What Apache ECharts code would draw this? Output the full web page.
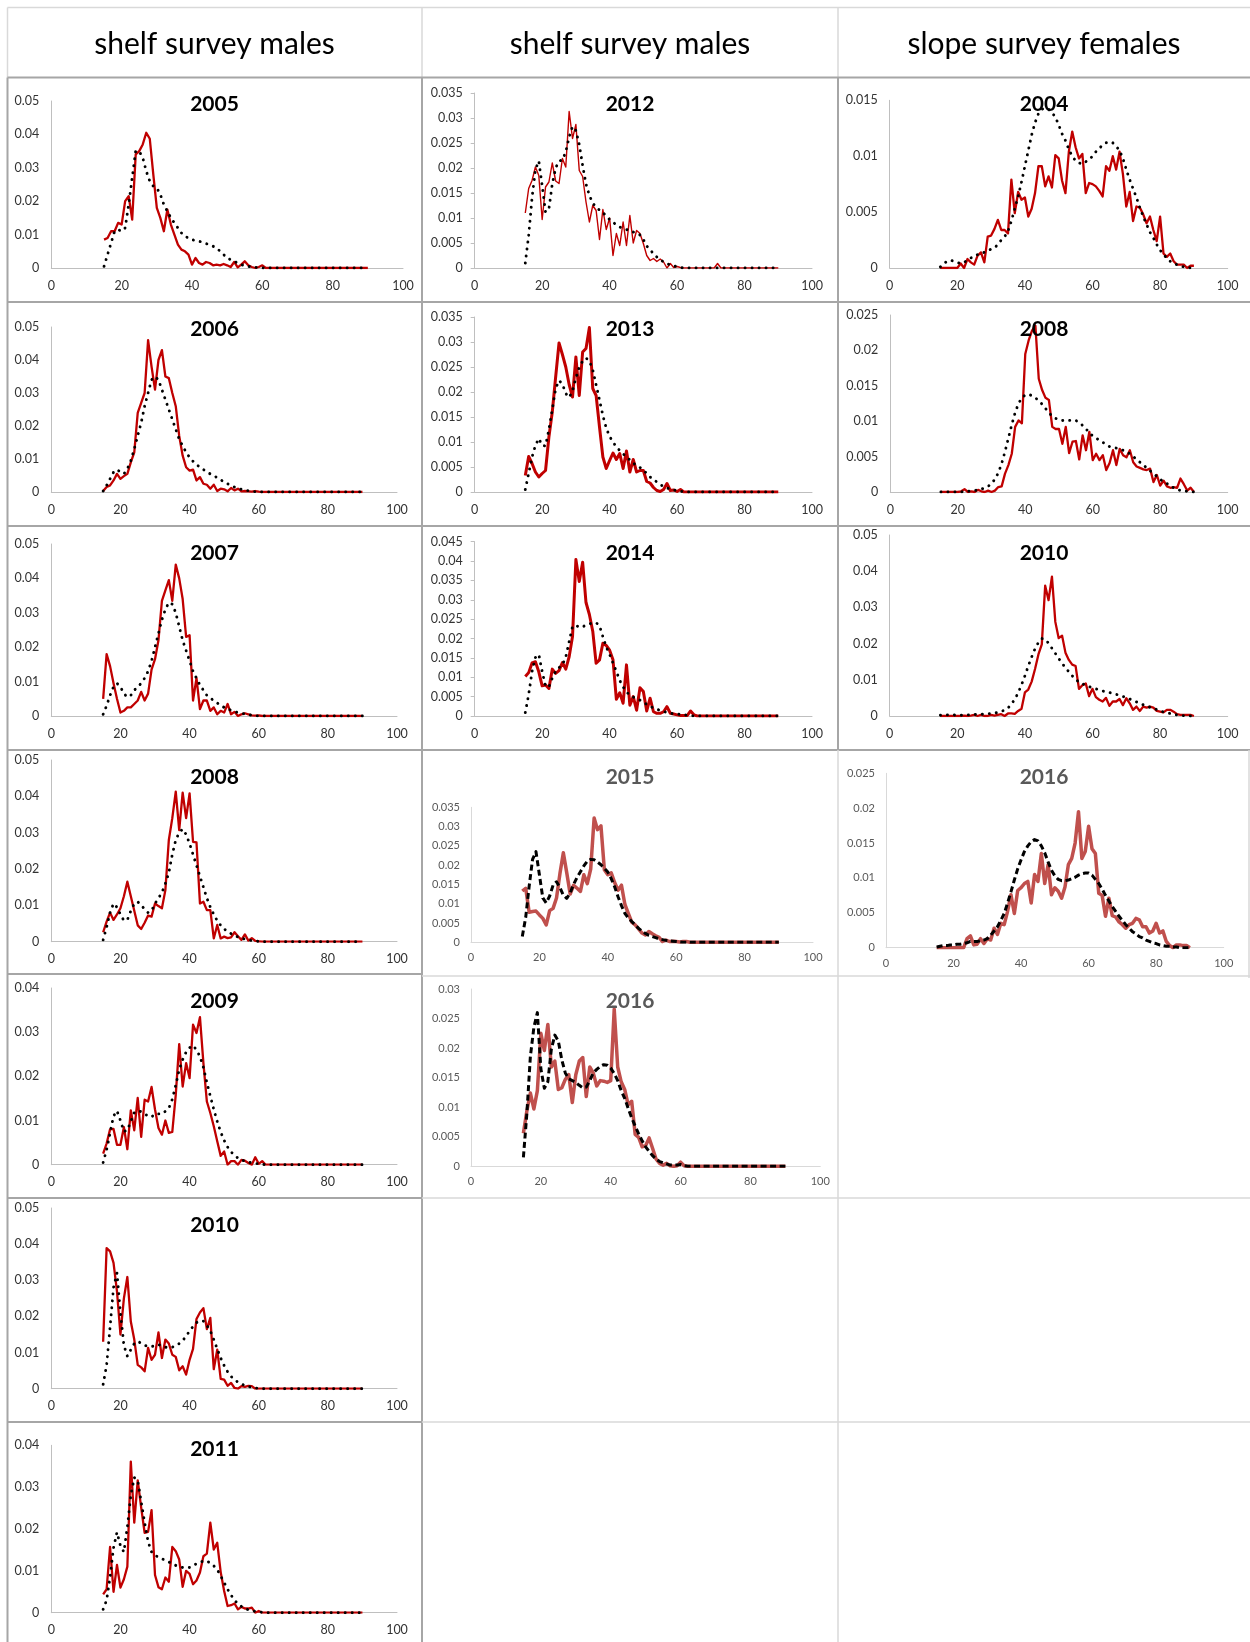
<!DOCTYPE html>
<html><head><meta charset="utf-8">
<script src="https://cdn.jsdelivr.net/npm/echarts/dist/echarts.min.js"></script>
<style>html,body{margin:0;padding:0;background:#fff}#c{width:1250px;height:1642px}</style>
</head><body><div id="c"></div><script>
// ---------- DATA ----------
const headers = ['shelf survey males', 'shelf survey males', 'slope survey females'];
const lengths = [15,16,17,18,19,20,21,22,23,24,25,26,27,28,29,30,31,32,33,34,35,36,37,38,39,40,41,42,43,44,45,46,47,48,49,50,51,52,53,54,55,56,57,58,59,60,61,62,63,64,65,66,67,68,69,70,71,72,73,74,75,76,77,78,79,80,81,82,83,84,85,86,87,88,89,90];

// shelf survey males (column 1)
const obs_m2005 = [0.0085,0.009,0.011,0.011,0.0135,0.013,0.020,0.0215,0.0145,0.034, 0.035,0.037,0.0405,0.0387,0.028,0.018,0.015,0.011,0.0175,0.013, 0.010,0.007,0.0055,0.005,0.004,0.001,0.003,0.0015,0.001,0.0018, 0.0015,0.0008,0.001,0.0008,0.0012,0.0008,0.0003,0.0018,0.0002,0.001, 0.002,0.0008,0.0003,0,0.0003,0.0008,0,0,0,0, 0,0,0,0,0,0,0,0,0,0, 0,0,0,0,0,0,0,0,0,0, 0,0,0,0,0,0];
const fit_m2005 = [0.0005,0.004,0.0075,0.011,0.0115,0.011,0.012,0.019,0.027,0.035, 0.035,0.033,0.029,0.026,0.0245,0.024,0.022,0.019,0.017,0.015, 0.0135,0.012,0.0105,0.0095,0.009,0.0085,0.0082,0.008,0.0077,0.0073, 0.007,0.0065,0.006,0.005,0.004,0.003,0.0025,0.002,0.0015,0.001, 0.0007,0.0005,0.0003,0.0002,0.0001,0,0,0,0,0, 0,0,0,0,0,0,0,0,0,0, 0,0,0,0,0,0,0,0,0,0, 0,0,0,0,0,0];
const obs_m2006 = [0.0003,0.0015,0.002,0.0035,0.0055,0.004,0.0048,0.0055,0.009,0.012, 0.024,0.027,0.03,0.046,0.038,0.031,0.040,0.043,0.035,0.0345, 0.030,0.026,0.017,0.011,0.0075,0.0065,0.0068,0.0035,0.0045,0.0025, 0.0022,0.001,0.0022,0.0003,0.001,0.0008,0.0002,0.0012,0.0005,0.001, 0.0002,0.0003,0.0002,0.0001,0.0003,0.0001,0,0,0,0, 0,0,0,0,0,0,0,0,0,0, 0,0,0,0,0,0,0,0,0,0, 0,0,0,0,0,0];
const fit_m2006 = [0.0003,0.002,0.004,0.006,0.0068,0.006,0.0055,0.007,0.0095,0.013, 0.017,0.021,0.026,0.030,0.034,0.035,0.034,0.031,0.028,0.025, 0.022,0.019,0.016,0.014,0.012,0.0105,0.0093,0.0083,0.0075,0.0068, 0.006,0.0055,0.005,0.0043,0.0037,0.003,0.0025,0.002,0.0015,0.0011, 0.0008,0.0005,0.0004,0.0002,0.0001,0,0,0,0,0, 0,0,0,0,0,0,0,0,0,0, 0,0,0,0,0,0,0,0,0,0, 0,0,0,0,0,0];
const obs_m2007 = [0.005,0.018,0.0145,0.0095,0.005,0.001,0.0015,0.0025,0.0025,0.0035, 0.0045,0.007,0.0045,0.0065,0.0135,0.0165,0.022,0.0335,0.0365,0.0395, 0.0335,0.044,0.040,0.034,0.023,0.0235,0.0045,0.011,0.002,0.0045, 0.0045,0.0015,0.0025,0.0005,0.0015,0.001,0.0035,0.0005,0.0012,0, 0.0005,0.0008,0.0005,0.0002,0.0001,0.0002,0,0,0,0, 0,0,0,0,0,0,0,0,0,0, 0,0,0,0,0,0,0,0,0,0, 0,0,0,0,0,0];
const fit_m2007 = [0.0005,0.003,0.006,0.0085,0.0095,0.0085,0.0065,0.0055,0.006,0.0075, 0.0085,0.0095,0.011,0.013,0.016,0.020,0.024,0.028,0.031,0.033, 0.0325,0.030,0.026,0.022,0.019,0.016,0.013,0.011,0.009,0.0075, 0.006,0.0052,0.0045,0.0038,0.003,0.0025,0.002,0.0017,0.0013,0.001, 0.0008,0.0006,0.0004,0.0002,0.0001,0,0,0,0,0, 0,0,0,0,0,0,0,0,0,0, 0,0,0,0,0,0,0,0,0,0, 0,0,0,0,0,0];
const obs_m2008 = [0.0026,0.0055,0.008,0.006,0.0075,0.0092,0.0125,0.0165,0.0125,0.0085, 0.0045,0.0035,0.0052,0.0072,0.0069,0.0105,0.0098,0.0092,0.0142,0.028, 0.034,0.0413,0.0307,0.041,0.034,0.0408,0.0275,0.0273,0.0105,0.011, 0.0087,0.0087,0.0009,0.0046,0.0009,0.0014,0.001,0.0012,0.0026,0.0015, 0.0005,0.002,0.0003,0.001,0.0002,0.0001,0,0,0,0, 0,0,0,0,0,0,0,0,0,0, 0,0,0,0,0,0,0,0,0,0, 0,0,0,0,0,0];
const fit_m2008 = [0.0005,0.004,0.008,0.0105,0.0095,0.0075,0.0058,0.006,0.0085,0.0105, 0.011,0.010,0.009,0.008,0.0085,0.0105,0.012,0.0135,0.016,0.019, 0.024,0.028,0.030,0.031,0.0295,0.027,0.024,0.021,0.018,0.015, 0.012,0.0095,0.0075,0.0058,0.0045,0.0035,0.0028,0.0022,0.0017,0.0013, 0.001,0.0007,0.0005,0.0003,0.0002,0.0001,0,0,0,0, 0,0,0,0,0,0,0,0,0,0, 0,0,0,0,0,0,0,0,0,0, 0,0,0,0,0,0];
const obs_m2009 = [0.0025,0.0048,0.008,0.0081,0.0045,0.0045,0.0085,0.0035,0.0123,0.0078, 0.0151,0.0063,0.0147,0.0143,0.0176,0.0125,0.0083,0.0068,0.010,0.0072, 0.0074,0.0158,0.0273,0.0177,0.023,0.0196,0.0317,0.0298,0.0334,0.023, 0.0143,0.0117,0.0087,0.0053,0.002,0.003,0,0.0008,0.0008,0, 0.0011,0.0009,0.0004,0,0.0017,0.0002,0.0008,0,0,0, 0,0,0,0,0,0,0,0,0,0, 0,0,0,0,0,0,0,0,0,0, 0,0,0,0,0,0];
const fit_m2009 = [0.0005,0.0034,0.0072,0.011,0.0122,0.010,0.0075,0.0078,0.0098,0.0118, 0.0122,0.012,0.0115,0.011,0.0108,0.0115,0.0115,0.0115,0.0121,0.0128, 0.0148,0.018,0.0215,0.0238,0.0255,0.0265,0.027,0.026,0.0245,0.022, 0.0186,0.0155,0.0125,0.0098,0.0074,0.0055,0.004,0.0029,0.0021,0.0015, 0.0011,0.0008,0.0006,0.0004,0.0003,0.0002,0.0001,0,0,0, 0,0,0,0,0,0,0,0,0,0, 0,0,0,0,0,0,0,0,0,0, 0,0,0,0,0,0];
const obs_m2010 = [0.013,0.0389,0.038,0.0348,0.0269,0.015,0.025,0.0309,0.0186,0.0136, 0.0066,0.0059,0.0048,0.0113,0.008,0.0094,0.0156,0.0085,0.0136,0.0125, 0.0094,0.0088,0.0051,0.0062,0.0039,0.008,0.011,0.0193,0.0211,0.0223, 0.0165,0.0196,0.0054,0.0108,0.0027,0.0025,0.0008,0.0016,0.0002,0, 0.0007,0.0005,0.0008,0.0007,0,0,0,0,0,0, 0,0,0,0,0,0,0,0,0,0, 0,0,0,0,0,0,0,0,0,0, 0,0,0,0,0,0];
const fit_m2010 = [0.0012,0.0065,0.017,0.028,0.032,0.021,0.012,0.009,0.0108,0.0125, 0.0131,0.0126,0.012,0.0117,0.0117,0.0118,0.0122,0.0119,0.0115,0.0113, 0.0115,0.0119,0.0125,0.0133,0.0145,0.016,0.0172,0.0183,0.0188,0.0187, 0.0175,0.016,0.0136,0.011,0.0085,0.0064,0.0047,0.0034,0.0025,0.0018, 0.0013,0.0009,0.0006,0.0004,0.0002,0.0001,0,0,0,0, 0,0,0,0,0,0,0,0,0,0, 0,0,0,0,0,0,0,0,0,0, 0,0,0,0,0,0];
const obs_m2011 = [0.0044,0.0056,0.0157,0.005,0.0114,0.006,0.008,0.011,0.0361,0.0215, 0.0316,0.0251,0.0191,0.0193,0.0245,0.009,0.0061,0.0056,0.0084,0.0074, 0.0157,0.0147,0.0127,0.0062,0.01,0.0093,0.0068,0.0077,0.0096,0.0135, 0.0141,0.0215,0.0151,0.0167,0.0097,0.0052,0.0016,0.0018,0.0022,0.0008, 0.0014,0.001,0.001,0.0012,0,0.0004,0,0,0,0, 0,0,0,0,0,0,0,0,0,0, 0,0,0,0,0,0,0,0,0,0, 0,0,0,0,0,0];
const fit_m2011 = [0.0008,0.003,0.0085,0.0155,0.0192,0.016,0.0145,0.0205,0.028,0.0323, 0.0316,0.0265,0.0215,0.017,0.0145,0.0137,0.0133,0.0129,0.0125,0.0121, 0.0117,0.0113,0.011,0.0108,0.0108,0.0108,0.0112,0.0117,0.0121,0.0123, 0.0124,0.0118,0.0112,0.0103,0.0088,0.0072,0.0056,0.0042,0.003,0.0021, 0.0015,0.001,0.0007,0.0005,0.0003,0.0002,0.0001,0,0,0, 0,0,0,0,0,0,0,0,0,0, 0,0,0,0,0,0,0,0,0,0, 0,0,0,0,0,0];

// shelf survey males (column 2)
const obs_m2012 = [0.011,0.0159,0.0175,0.0202,0.0185,0.0097,0.0162,0.0172,0.021,0.0174, 0.0169,0.0219,0.0202,0.0313,0.0259,0.0287,0.0195,0.0183,0.0132,0.0092, 0.0125,0.0115,0.0057,0.0117,0.0077,0.01,0.0025,0.0069,0.0045,0.0092, 0.0045,0.0105,0.005,0.0075,0.0069,0.0049,0.0025,0.0015,0.0019,0.0013, 0.0018,0.0012,0,0.0009,0.0001,0.0003,0.0001,0,0,0, 0,0,0,0,0,0,0,0.0009,0,0, 0,0,0,0,0,0,0,0,0,0, 0,0,0,0,0,0];
const fit_m2012 = [0.001,0.0065,0.014,0.0197,0.0214,0.0165,0.0112,0.0118,0.0168,0.020, 0.0214,0.0216,0.0232,0.0262,0.0283,0.0275,0.0247,0.0205,0.0168,0.0145, 0.013,0.0121,0.0116,0.0111,0.0104,0.0097,0.0091,0.0087,0.0082,0.0079, 0.0077,0.0074,0.0072,0.007,0.0066,0.0057,0.0044,0.0036,0.0029,0.0022, 0.0017,0.0012,0.0009,0.0006,0.0004,0.0003,0.0001,0,0,0, 0,0,0,0,0,0,0,0,0,0, 0,0,0,0,0,0,0,0,0,0, 0,0,0,0,0,0];
const obs_m2013 = [0.0033,0.0071,0.0057,0.004,0.003,0.0037,0.0043,0.011,0.016,0.023, 0.0298,0.0275,0.025,0.0215,0.019,0.027,0.0193,0.028,0.0287,0.0329, 0.0207,0.0193,0.013,0.007,0.0047,0.0063,0.0078,0.0065,0.0077,0.0047, 0.0082,0.004,0.0065,0.004,0.0043,0.0043,0.0021,0.0018,0.0009,0.0003, 0.0001,0.0005,0.0017,0.0003,0.0004,0.0001,0.0005,0,0,0, 0,0,0,0,0,0,0,0,0,0, 0,0,0,0,0,0,0,0,0,0, 0,0,0,0,0,0];
const fit_m2013 = [0.0005,0.0037,0.007,0.0093,0.0107,0.0093,0.0092,0.0125,0.0165,0.0207, 0.0223,0.0216,0.0197,0.0189,0.0202,0.0228,0.0249,0.0262,0.0268,0.0262, 0.0244,0.0214,0.0184,0.0153,0.0128,0.0111,0.01,0.009,0.0083,0.0076, 0.0071,0.0064,0.0058,0.0053,0.0049,0.0044,0.0037,0.003,0.0025,0.002, 0.0015,0.0011,0.0008,0.0006,0.0004,0.0003,0.0002,0,0,0, 0,0,0,0,0,0,0,0,0,0, 0,0,0,0,0,0,0,0,0,0, 0,0,0,0,0,0];
const obs_m2014 = [0.0102,0.0112,0.0137,0.014,0.0114,0.0078,0.008,0.0071,0.0121,0.011, 0.0117,0.0138,0.0121,0.0153,0.0205,0.0404,0.0347,0.0397,0.0293,0.0262, 0.0219,0.0136,0.0145,0.0188,0.0182,0.017,0.0145,0.0043,0.006,0.0033, 0.0132,0.0028,0.005,0.0015,0.0073,0.0063,0.0013,0.0046,0.0011,0.0007, 0.0007,0.0011,0.0024,0.0007,0.0005,0.0003,0.0001,0.0001,0.0001,0.0013, 0.0003,0,0,0,0,0,0,0,0,0, 0,0,0,0,0,0,0,0,0,0, 0,0,0,0,0,0];
const fit_m2014 = [0.0009,0.0055,0.0115,0.0151,0.0159,0.0115,0.0077,0.0075,0.0098,0.0115, 0.0125,0.0132,0.0152,0.0192,0.0231,0.0234,0.0229,0.023,0.0235,0.0238, 0.024,0.0241,0.0233,0.0205,0.0178,0.0159,0.0137,0.0115,0.0092,0.0075, 0.0062,0.0054,0.0049,0.0045,0.0041,0.0036,0.003,0.0025,0.0021,0.0017, 0.0015,0.0012,0.0009,0.0007,0.0006,0.0005,0.0004,0.0003,0.0002,0.0001, 0,0,0,0,0,0,0,0,0,0, 0,0,0,0,0,0,0,0,0,0, 0,0,0,0,0,0];
const obs_m2015 = [0.0133,0.014,0.0078,0.008,0.0081,0.0071,0.0062,0.0045,0.0082,0.0088, 0.0115,0.0178,0.0232,0.018,0.0125,0.0148,0.014,0.0132,0.0175,0.0152, 0.019,0.0322,0.0292,0.0302,0.0188,0.0175,0.018,0.0155,0.0135,0.0148, 0.0098,0.0075,0.0052,0.0045,0.0035,0.0024,0.0019,0.0028,0.0022,0.0017, 0.0013,0.0002,0.0006,0.0002,0.0003,0.0002,0.0001,0.0002,0.0002,0, 0,0,0,0,0,0,0,0,0,0, 0,0,0,0,0,0,0,0,0,0, 0,0,0,0,0,0];
const fit_m2015 = [0.0015,0.0065,0.0145,0.0215,0.0235,0.0175,0.0115,0.0102,0.012,0.0148, 0.0157,0.0142,0.0122,0.0114,0.0128,0.015,0.0168,0.0183,0.0198,0.021, 0.0215,0.0214,0.0208,0.0201,0.0192,0.0182,0.0165,0.0144,0.0118,0.0095, 0.0075,0.0063,0.0054,0.0045,0.0036,0.0029,0.0023,0.0018,0.0015,0.0012, 0.0009,0.0007,0.0005,0.0004,0.0003,0.0002,0.0001,0,0,0, 0,0,0,0,0,0,0,0,0,0, 0,0,0,0,0,0,0,0,0,0, 0,0,0,0,0,0];
const obs_m2016 = [0.0056,0.0094,0.0124,0.0097,0.0128,0.0225,0.0196,0.024,0.0168,0.0178, 0.013,0.0133,0.0147,0.0155,0.0108,0.0155,0.0178,0.0184,0.0118,0.0168, 0.0158,0.0136,0.0145,0.0144,0.0142,0.0145,0.0266,0.0168,0.0143,0.013, 0.0104,0.011,0.0054,0.0049,0.0033,0.0035,0.0048,0.003,0.0012,0.0005, 0.0002,0.0005,0.0001,0,0.0001,0.0007,0.0001,0,0,0, 0,0,0,0,0,0,0,0,0,0, 0,0,0,0,0,0,0,0,0,0, 0,0,0,0,0,0];
const fit_m2016 = [0.0015,0.009,0.0186,0.0235,0.026,0.0165,0.0132,0.0143,0.0198,0.0222, 0.0212,0.018,0.0158,0.0148,0.0145,0.0142,0.0137,0.0133,0.0134,0.0145, 0.0158,0.0164,0.0169,0.0172,0.0171,0.0166,0.0157,0.0145,0.0128,0.0115, 0.0098,0.0082,0.0068,0.0055,0.0043,0.0033,0.0025,0.0018,0.0012,0.0008, 0.0006,0.0004,0.0002,0.0002,0.0002,0.0003,0.0001,0,0,0, 0,0,0,0,0,0,0,0,0,0, 0,0,0,0,0,0,0,0,0,0, 0,0,0,0,0,0];

// slope survey females (column 3)
const obs_f2004 = [0,0,0,0,0,0,0.0004,0,0.0008,0.0005, 0.0003,0.0011,0.0014,0.0005,0.0028,0.0029,0.0035,0.0043,0.0034,0.0034, 0.0031,0.0079,0.0049,0.0068,0.0061,0.0063,0.0046,0.0053,0.0067,0.0091, 0.0091,0.0073,0.0082,0.0072,0.0101,0.0098,0.0078,0.0067,0.0104,0.0122, 0.0108,0.0098,0.0102,0.0067,0.0076,0.0075,0.0073,0.0069,0.0064,0.0091, 0.0087,0.01,0.0088,0.0104,0.0084,0.0055,0.0068,0.0042,0.0055,0.0054, 0.0048,0.004,0.0046,0.0034,0.0024,0.0046,0.0013,0.001,0.0013,0.0006, 0.0003,0.0003,0.0003,0,0.0002,0.0002];
const fit_f2004 = [0.0001,0.0004,0.0006,0.0007,0.0006,0.0005,0.0004,0.0005,0.0007,0.0009, 0.001,0.0012,0.0013,0.0014,0.0015,0.0017,0.0018,0.0021,0.0025,0.0028, 0.0033,0.0042,0.0053,0.0064,0.0077,0.0091,0.0105,0.0119,0.013,0.0138, 0.0142,0.0143,0.0142,0.0139,0.0135,0.0128,0.012,0.0114,0.0106,0.01, 0.0096,0.0094,0.0093,0.0095,0.0097,0.01,0.0104,0.0107,0.011,0.0112, 0.0113,0.0112,0.0109,0.0105,0.0098,0.0088,0.0079,0.0071,0.0063,0.0054, 0.0046,0.0039,0.0032,0.0027,0.0021,0.0016,0.0012,0.0009,0.0006,0.0004, 0.0003,0.0002,0.0001,0.0001,0,0];
const obs_f2008 = [0,0,0,0,0,0,0.0001,0.0004,0,0.0001, 0,0.0003,0.0001,0,0.0002,0,0.0002,0.0007,0.0008,0.0026, 0.0038,0.0054,0.0092,0.0101,0.0097,0.0195,0.0214,0.0228,0.0235,0.016, 0.0144,0.0133,0.013,0.0092,0.0089,0.0089,0.0068,0.0092,0.0055,0.0071, 0.0072,0.0046,0.008,0.0059,0.0085,0.0045,0.0054,0.0045,0.0052,0.0031, 0.0041,0.0059,0.0038,0.0061,0.0052,0.0049,0.0059,0.0042,0.0036,0.0034, 0.0032,0.0031,0.0033,0.0014,0.0024,0.0009,0.0016,0.0008,0.0006,0.0007, 0.0006,0.0019,0.0011,0.0002,0.0006,0];
const fit_f2008 = [0,0,0,0,0,0,0,0.0001,0.0001,0.0001, 0.0002,0.0003,0.0004,0.0006,0.0008,0.0012,0.0018,0.0027,0.004,0.0057, 0.0076,0.0095,0.0112,0.0125,0.0133,0.0137,0.0138,0.0136,0.0133,0.0129, 0.0124,0.0118,0.0112,0.0107,0.0104,0.0102,0.0101,0.0101,0.0101,0.0102, 0.0101,0.0098,0.0094,0.0089,0.0084,0.0079,0.0076,0.0073,0.007,0.0067, 0.0064,0.0063,0.0062,0.006,0.0059,0.0057,0.0054,0.005,0.0046,0.0042, 0.0038,0.0034,0.003,0.0026,0.0022,0.0018,0.0014,0.0012,0.0008,0.0006, 0.0004,0.0002,0.0001,0.0001,0,0];
const obs_f2010 = [0,0,0,0,0,0,0,0.0001,0,0.0001, 0.0003,0,0.0003,0,0,0.0003,0.0001,0.0003,0.0005,0, 0.0007,0.0007,0.0006,0.0014,0.002,0.0065,0.0073,0.0095,0.013,0.017, 0.0198,0.036,0.032,0.0385,0.026,0.0215,0.0222,0.0175,0.0155,0.0142, 0.0138,0.0075,0.0085,0.009,0.0055,0.0075,0.0052,0.0045,0.004,0.005, 0.0028,0.004,0.004,0.0047,0.003,0.0049,0.0035,0.0017,0.0026,0.0014, 0.0026,0.0023,0.0026,0.0023,0.0014,0.0012,0.001,0.0017,0.0017,0.0012, 0.0005,0.0003,0.0003,0.0003,0.0003,0];
const fit_f2010 = [0.0002,0.0002,0.0003,0.0003,0.0003,0.0002,0.0002,0.0002,0.0003,0.0003, 0.0004,0.0004,0.0005,0.0005,0.0006,0.0007,0.0008,0.001,0.0013,0.0016, 0.0022,0.0033,0.0046,0.0064,0.0086,0.0111,0.0138,0.0163,0.0186,0.0203, 0.0214,0.0212,0.0201,0.0187,0.0173,0.0159,0.0145,0.0134,0.0122,0.0111, 0.0102,0.0093,0.0089,0.0085,0.0081,0.0078,0.0075,0.0072,0.0069,0.0067, 0.0065,0.0062,0.006,0.0057,0.0054,0.0051,0.0047,0.0043,0.0039,0.0035, 0.0031,0.0028,0.0024,0.0021,0.0018,0.0015,0.0011,0.0009,0.0007,0.0005, 0.0003,0.0002,0.0001,0.0001,0,0];
const obs_f2016 = [0,0,0,0,0,0,0,0,0,0.0013, 0.0017,0.0004,0.0005,0.0013,0.0006,0.0013,0.0011,0.0028,0.0019,0.0035, 0.0033,0.0052,0.0076,0.0049,0.0082,0.0086,0.0092,0.0095,0.0064,0.0105, 0.0095,0.0135,0.0092,0.0119,0.0076,0.0086,0.0081,0.0071,0.0087,0.0119, 0.0128,0.015,0.0195,0.0128,0.0138,0.0174,0.0142,0.0135,0.0078,0.0075, 0.0045,0.0071,0.0046,0.0044,0.0037,0.0033,0.0028,0.0033,0.0035,0.0042, 0.004,0.003,0.003,0.0021,0.0024,0.0035,0.0021,0.0024,0.0009,0.0003, 0,0.0004,0.0004,0.0003,0.0003,0];
const fit_f2016 = [0.0001,0.0002,0.0003,0.0003,0.0004,0.0004,0.0005,0.0005,0.0006,0.0007, 0.0009,0.0009,0.0009,0.001,0.0011,0.0013,0.0018,0.0024,0.003,0.0039, 0.0049,0.0064,0.008,0.0097,0.0113,0.0126,0.0138,0.0146,0.0152,0.0155, 0.0153,0.0146,0.0136,0.0123,0.0111,0.0103,0.0098,0.0096,0.0096,0.0097, 0.0099,0.0101,0.0104,0.0106,0.0107,0.0107,0.0104,0.0098,0.0092,0.0084, 0.0075,0.0067,0.0059,0.0052,0.0045,0.0039,0.0033,0.0028,0.0023,0.002, 0.0016,0.0014,0.0011,0.0009,0.0007,0.0006,0.0004,0.0003,0.0002,0.0002, 0.0001,0.0001,0,0,0,0];

// ---------- PANELS (layout & axis ranges) ----------
const C1 = 214.5, C2 = 630, C3 = 1044;
const panels = [
  {title:'2005', obs:obs_m2005, fit:fit_m2005, yMax:0.05,  yStep:0.01,  cx:C1, cy:104.5, g:[51.3,101,351.7,167],    s:'A', w:2.3},
  {title:'2006', obs:obs_m2006, fit:fit_m2006, yMax:0.05,  yStep:0.01,  cx:C1, cy:329,   g:[51.3,327,345.7,165],    s:'A', w:2.3},
  {title:'2007', obs:obs_m2007, fit:fit_m2007, yMax:0.05,  yStep:0.01,  cx:C1, cy:553,   g:[51.3,544,345.7,172],    s:'A', w:2.3},
  {title:'2008', obs:obs_m2008, fit:fit_m2008, yMax:0.05,  yStep:0.01,  cx:C1, cy:777,   g:[51.3,760,345.7,181.7],  s:'A', w:2.3},
  {title:'2009', obs:obs_m2009, fit:fit_m2009, yMax:0.04,  yStep:0.01,  cx:C1, cy:1001,  g:[51.3,988,345.7,176.7],  s:'A', w:2.3},
  {title:'2010', obs:obs_m2010, fit:fit_m2010, yMax:0.05,  yStep:0.01,  cx:C1, cy:1225,  g:[51.3,1208,345.7,180.7], s:'A', w:2.3},
  {title:'2011', obs:obs_m2011, fit:fit_m2011, yMax:0.04,  yStep:0.01,  cx:C1, cy:1449,  g:[51.3,1445.3,345.7,167.4], s:'A', w:2.3},
  {title:'2012', obs:obs_m2012, fit:fit_m2012, yMax:0.035, yStep:0.005, cx:C2, cy:104.5, g:[474.7,93,337.3,175],    s:'A', w:1.4, tick:true},
  {title:'2013', obs:obs_m2013, fit:fit_m2013, yMax:0.035, yStep:0.005, cx:C2, cy:329,   g:[474.7,317,337.3,175],   s:'A', w:3, tick:true},
  {title:'2014', obs:obs_m2014, fit:fit_m2014, yMax:0.045, yStep:0.005, cx:C2, cy:553,   g:[474.7,541.7,337.3,174.3], s:'A', w:3, tick:true},
  {title:'2015', obs:obs_m2015, fit:fit_m2015, yMax:0.035, yStep:0.005, cx:C2, cy:777,   g:[471,807.3,342,135],     s:'B', w:3.5},
  {title:'2016', obs:obs_m2016, fit:fit_m2016, yMax:0.03,  yStep:0.005, cx:C2, cy:1001,  g:[471,989,349.3,177.3],   s:'B', w:3.5},
  {title:'2004', obs:obs_f2004, fit:fit_f2004, yMax:0.015, yStep:0.005, cx:C3, cy:104.5, g:[889.7,100.3,338,167.7], s:'A', w:2.3},
  {title:'2008', obs:obs_f2008, fit:fit_f2008, yMax:0.025, yStep:0.005, cx:C3, cy:329,   g:[890.3,315,337.4,177],   s:'A', w:2.3},
  {title:'2010', obs:obs_f2010, fit:fit_f2010, yMax:0.05,  yStep:0.01,  cx:C3, cy:553,   g:[889.7,535,338,181],     s:'A', w:2.3},
  {title:'2016', obs:obs_f2016, fit:fit_f2016, yMax:0.025, yStep:0.005, cx:C3, cy:777,   g:[886,773.3,337.7,174.4], s:'B', w:3.5}
];
const STY = {
  A: {red:'#C00000', fitType:[0.1,6.9], fitW:2.9, fitCap:'round', lab:'#333333', labSize:12.5, axis:'#BFBFBF', title:'#000000', ymargin:12, xmargin:11},
  B: {red:'#C0504D', fitType:[6,3.5],   fitW:3,   fitCap:'butt',  lab:'#595959', labSize:11,   axis:'#D9D9D9', title:'#595959', ymargin:11, xmargin:10}
};
const FONT = 'Lato, "Open Sans", "DejaVu Sans", sans-serif';

const grids = [], xAxes = [], yAxes = [], series = [], graphics = [];
panels.forEach((p, i) => {
  const st = STY[p.s];
  grids.push({left:p.g[0], top:p.g[1], width:p.g[2], height:p.g[3], outerBoundsMode:'none', containLabel:false});
  xAxes.push({type:'value', gridIndex:i, min:0, max:100, interval:20, position:'bottom',
    axisLine:{show:true, onZero:false, lineStyle:{color:st.axis, width:1}},
    axisTick:{show:false}, splitLine:{show:false},
    axisLabel:{color:st.lab, fontSize:st.labSize, fontFamily:FONT, margin:st.xmargin, showMinLabel:true, showMaxLabel:true}});
  yAxes.push({type:'value', gridIndex:i, min:0, max:p.yMax, interval:p.yStep, position:'left',
    axisLine:{show:true, onZero:false, lineStyle:{color:st.axis, width:1}},
    axisTick:{show:!!p.tick, length:4, inside:false, lineStyle:{color:st.axis}}, splitLine:{show:false},
    axisLabel:{color:st.lab, fontSize:st.labSize, fontFamily:FONT, margin:st.ymargin,
      formatter: v => v === 0 ? '0' : String(+v.toFixed(4))}});
  series.push({type:'line', xAxisIndex:i, yAxisIndex:i, showSymbol:false, symbol:'none', silent:true,
    data: lengths.map((x, k) => [x, p.obs[k]]),
    lineStyle:{color:st.red, width:p.w, join:'round'}, z:2});
  series.push({type:'line', xAxisIndex:i, yAxisIndex:i, showSymbol:false, symbol:'none', silent:true,
    data: lengths.map((x, k) => [x, p.fit[k]]),
    lineStyle:{color:'#000000', width:st.fitW, type:st.fitType, cap:st.fitCap, join:'round'}, z:3});
  graphics.push({type:'text', x:p.cx, y:p.cy, z:10, silent:true,
    style:{text:p.title, fill:st.title, font:'bold 21px ' + FONT, align:'center', verticalAlign:'middle', textAlign:'center', textVerticalAlign:'middle'}});
});

// headers
[C1, C2, C3].forEach((cx, i) => {
  graphics.push({type:'text', x:cx, y:44, z:10, silent:true,
    style:{text:headers[i], fill:'#000000', font:'30px ' + FONT, align:'center', verticalAlign:'middle', textAlign:'center', textVerticalAlign:'middle'}});
});

// table borders
const DARK = '#A6A6A6', LIGHT = '#D9D9D9';
const borders = [
  [7.5,7.5,1250,7.5,LIGHT],[7.5,7.5,7.5,77.5,LIGHT],[422,7.5,422,77.5,LIGHT],[838,7.5,838,77.5,LIGHT],
  [7.5,77.5,1250,77.5,DARK],[7.5,77.5,7.5,1642,DARK],[422,77.5,422,1642,DARK],
  [7.5,302,422,302,DARK],[7.5,526,422,526,DARK],[7.5,750,422,750,DARK],[7.5,974,422,974,DARK],[7.5,1198,422,1198,DARK],[7.5,1422,422,1422,DARK],
  [838,77.5,838,750,DARK],[422,302,1250,302,DARK],[422,526,1250,526,DARK],[422,750,1250,750,DARK],
  [838,750,838,1642,LIGHT],[1249,750,1249,978,LIGHT],[422,976,1250,976,LIGHT],[422,1198,1250,1198,LIGHT],[422,1422,1250,1422,LIGHT]
];
borders.forEach(b => {
  graphics.push({type:'line', z:1, silent:true, shape:{x1:b[0], y1:b[1], x2:b[2], y2:b[3]},
    style:{stroke:b[4], lineWidth:b[4] === DARK ? 2 : 1.5}});
});

const chart = echarts.init(document.getElementById('c'), null, {renderer:'canvas', width:1250, height:1642});
chart.setOption({
  animation:false, backgroundColor:'#ffffff',
  grid:grids, xAxis:xAxes, yAxis:yAxes, series:series, graphic:graphics,
  tooltip:{show:false}, legend:{show:false}
});
</script></body></html>
